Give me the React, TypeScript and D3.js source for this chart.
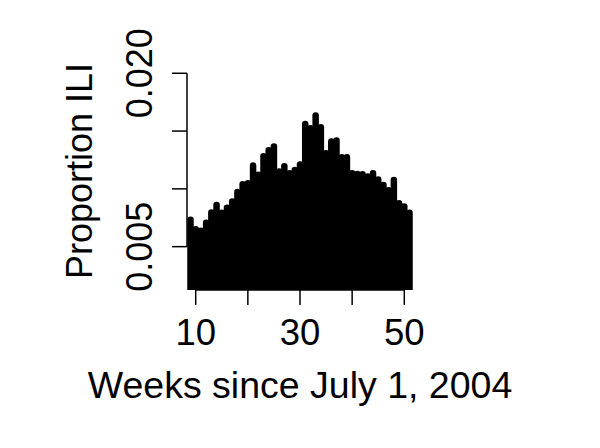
import React from "react";
import * as d3 from "d3";

const weeks: number[] = [
  9, 10, 11, 12, 13, 14, 15, 16, 17, 18, 19, 20, 21, 22, 23, 24, 25, 26, 27, 28, 29, 30,
  31, 32, 33, 34, 35, 36, 37, 38, 39, 40, 41, 42, 43, 44, 45, 46, 47, 48, 49, 50, 51,
];
const proportionILI: number[] = [
  0.00733, 0.00651, 0.00638, 0.00707, 0.00795, 0.00861, 0.00794, 0.00837, 0.00891, 0.00973,
  0.0104, 0.01049, 0.01202, 0.01121, 0.01282, 0.01334, 0.01366, 0.0115, 0.01196, 0.01135,
  0.01164, 0.01211, 0.01561, 0.01525, 0.01635, 0.01533, 0.01308, 0.0141, 0.01418, 0.01274,
  0.01274, 0.01135, 0.01128, 0.01127, 0.01107, 0.01135, 0.0108, 0.01034, 0.00988, 0.01077,
  0.00876, 0.00847, 0.00793,
];
const xTicks: number[] = [10, 20, 30, 40, 50];
const xTickLabels: string[] = ["10", "", "30", "", "50"];
const yTicks: number[] = [0.005, 0.01, 0.015, 0.02];
const yTickLabels: string[] = ["0.005", "", "", "0.020"];
const xTitle = "Weeks since July 1, 2004";
const yTitle = "Proportion ILI";

const W = 600;
const H = 448;
const plot = { left: 187, right: 413, top: 52, bottom: 290 };
const font = "'Liberation Sans', Arial, Helvetica, sans-serif";

export default function App() {
  const x = d3.scaleLinear().domain([8.33, 51.67]).range([plot.left, plot.right]);
  const y = d3.scaleLinear().domain([0.00125, 0.02184]).range([plot.bottom, plot.top]);
  const tickLen = 15;
  const lw = 6.5;
  const y0 = y(0);

  return (
    <svg
      width={W}
      height={H}
      style={{ position: "absolute", left: 0, top: 0, background: "#fff" }}
    >
      <defs>
        <clipPath id="plotclip">
          <rect
            x={plot.left}
            y={plot.top}
            width={plot.right - plot.left}
            height={plot.bottom - plot.top}
          />
        </clipPath>
      </defs>
      <rect x={0} y={0} width={W} height={H} fill="#fff" />
      <g clipPath="url(#plotclip)">
        {weeks.map((w, i) => (
          <line
            key={w}
            x1={x(w)}
            x2={x(w)}
            y1={y0}
            y2={y(proportionILI[i])}
            stroke="#000"
            strokeWidth={lw}
            strokeLinecap="round"
          />
        ))}
      </g>
      {/* x axis */}
      <g>
        <line
          x1={x(xTicks[0])}
          x2={x(xTicks[xTicks.length - 1])}
          y1={plot.bottom}
          y2={plot.bottom}
          stroke="#000"
          strokeWidth={1.5}
        />
        {xTicks.map((t, i) => (
          <g key={t}>
            <line
              x1={x(t)}
              x2={x(t)}
              y1={plot.bottom}
              y2={plot.bottom + tickLen}
              stroke="#000"
              strokeWidth={1.5}
            />
            {xTickLabels[i] && (
              <text
                x={x(t)}
                y={345}
                textAnchor="middle"
                fontFamily={font}
                fontSize={36.5}
                fill="#000"
              >
                {xTickLabels[i]}
              </text>
            )}
          </g>
        ))}
      </g>
      {/* y axis */}
      <g>
        <line
          x1={plot.left}
          x2={plot.left}
          y1={y(yTicks[0])}
          y2={y(yTicks[yTicks.length - 1])}
          stroke="#000"
          strokeWidth={1.5}
        />
        {yTicks.map((t, i) => (
          <g key={t}>
            <line
              x1={plot.left - tickLen}
              x2={plot.left}
              y1={y(t)}
              y2={y(t)}
              stroke="#000"
              strokeWidth={1.5}
            />
            {yTickLabels[i] && (
              <text
                transform={`translate(${151.7},${y(t)}) rotate(-90)`}
                textAnchor="middle"
                fontFamily={font}
                fontSize={36}
                fill="#000"
              >
                {yTickLabels[i]}
              </text>
            )}
          </g>
        ))}
      </g>
      <text
        x={(plot.left + plot.right) / 2}
        y={398}
        textAnchor="middle"
        fontFamily={font}
        fontSize={37.5}
        fill="#000"
      >
        {xTitle}
      </text>
      <text
        transform={`translate(${91.7},${(plot.top + plot.bottom) / 2}) rotate(-90)`}
        textAnchor="middle"
        fontFamily={font}
        fontSize={36}
        fill="#000"
      >
        {yTitle}
      </text>
    </svg>
  );
}
